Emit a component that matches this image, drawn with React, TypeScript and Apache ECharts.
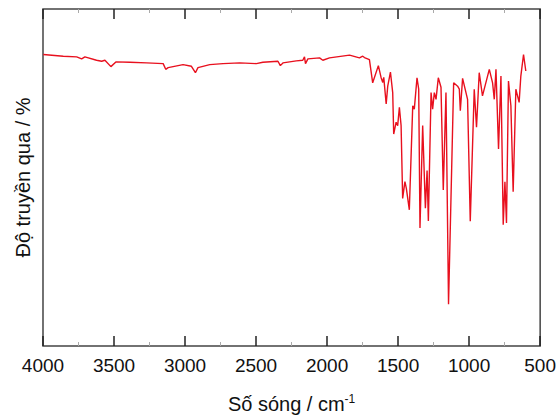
import React, { useEffect, useRef } from "react";
import * as echarts from "echarts";

// Wavenumber (cm-1) and transmittance (arbitrary %)
const wavenumbers = [
  3998, 3857, 3763, 3728, 3705, 3623, 3587, 3564, 3522, 3487, 3389, 3271, 3154, 3136, 3119, 3084,
  3014, 2955, 2927, 2909, 2826, 2733, 2615, 2498, 2452, 2346, 2329, 2311, 2217, 2171, 2159, 2152,
  2135, 2053, 2030, 1983, 1842, 1772, 1749, 1737, 1702, 1679, 1639, 1620, 1608, 1601, 1584, 1573,
  1554, 1538, 1531, 1514, 1503, 1491, 1479, 1468, 1452, 1442, 1421, 1407, 1397, 1386, 1367, 1355,
  1346, 1327, 1308, 1296, 1287, 1268, 1257, 1245, 1233, 1217, 1198, 1182, 1163, 1145, 1109, 1081,
  1069, 1062, 1046, 1011, 992, 964, 948, 929, 906, 858, 835, 823, 811, 793, 776, 760,
  748, 737, 723, 706, 690, 671, 648, 636, 617, 601,
];
const transmittance = [
  86.5, 86.0, 85.8, 85.2, 85.8, 84.8, 84.5, 84.8, 82.9, 84.3, 84.2, 84.0, 83.8, 82.1, 82.6, 82.9,
  83.5, 83.0, 81.1, 82.6, 83.5, 83.8, 84.0, 83.8, 84.2, 84.5, 83.2, 84.0, 84.6, 84.8, 85.8, 83.8,
  85.2, 85.5, 84.8, 85.5, 86.3, 85.5, 86.0, 85.6, 85.0, 78.1, 83.2, 79.7, 78.2, 79.7, 71.8, 77.1,
  81.3, 75.2, 62.9, 66.4, 65.4, 70.8, 65.4, 43.8, 48.8, 46.8, 40.4, 58.5, 71.3, 70.3, 79.6, 76.2,
  35.0, 65.4, 40.9, 52.1, 37.1, 75.2, 70.3, 75.2, 73.2, 79.6, 76.8, 46.3, 75.2, 12.4, 78.1, 77.1,
  76.2, 69.8, 79.4, 73.2, 37.0, 76.2, 64.9, 81.1, 74.2, 82.1, 78.1, 73.2, 82.1, 58.5, 80.1, 36.0,
  48.7, 36.5, 78.6, 71.3, 45.8, 76.2, 72.3, 80.1, 86.5, 81.6,
];

export default function App() {
  const ref = useRef<HTMLDivElement>(null);
  useEffect(() => {
    if (!ref.current) return;
    const chart = echarts.init(ref.current, null, { renderer: "svg" });
    const font = "'Liberation Sans', Arial, sans-serif";
    const data = wavenumbers.map((w, i) => [w, transmittance[i]]);
    const tick = { show: true, inside: true, length: 10, lineStyle: { color: "#222", width: 1.5 } };
    const minor = { show: true, splitNumber: 2, length: 4, lineStyle: { color: "#aaa", width: 1 } };
    chart.setOption({
      animation: false,
      backgroundColor: "#fff",
      grid: {
        left: 43,
        right: 18,
        top: 9,
        bottom: 70,
        containLabel: false,
        show: true,
        borderColor: "#444",
        borderWidth: 1.5,
        backgroundColor: "transparent",
      },
      xAxis: [
        {
          type: "value",
          inverse: true,
          min: 500,
          max: 4000,
          interval: 500,
          axisLine: { show: false, onZero: false },
          axisTick: tick,
          minorTick: minor,
          splitLine: { show: false },
          axisLabel: {
            fontFamily: font,
            fontSize: 19,
            color: "#111",
            margin: 10,
            formatter: (v: number) => String(v),
          },
          name: "{a|Số sóng / cm}{b|-1}",
          nameLocation: "middle",
          nameGap: 47,
          nameTextStyle: {
            rich: {
              a: { fontFamily: font, fontSize: 20, color: "#111" },
              b: { fontFamily: font, fontSize: 12, color: "#111", verticalAlign: "top", padding: [0, 0, 10, 0] },
            },
          },
        },
        {
          type: "value",
          inverse: true,
          min: 500,
          max: 4000,
          interval: 500,
          position: "top",
          axisLine: { show: false, onZero: false },
          axisTick: tick,
          minorTick: minor,
          splitLine: { show: false },
          axisLabel: { show: false },
        },
      ],
      yAxis: {
        type: "value",
        min: 0,
        max: 100,
        axisLine: { show: false },
        axisTick: { show: false },
        splitLine: { show: false },
        axisLabel: { show: false },
        name: "Độ truyền qua / %",
        nameLocation: "middle",
        nameGap: 10,
        nameRotate: 90,
        nameTextStyle: { fontFamily: font, fontSize: 20, color: "#111" },
      },
      series: [
        {
          type: "line",
          data,
          showSymbol: false,
          lineStyle: { color: "#e8101e", width: 1.4 },
        },
        {
          type: "line",
          data: [],
          xAxisIndex: 1,
          showSymbol: false,
        },
      ],
    });
    return () => chart.dispose();
  }, []);
  return (
    <div
      ref={ref}
      style={{ position: "fixed", left: 0, top: 0, width: 559, height: 419 }}
    />
  );
}
